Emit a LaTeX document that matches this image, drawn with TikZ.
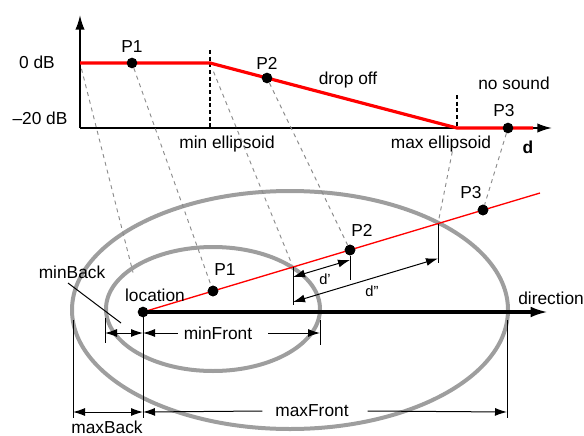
\documentclass[tikz,border=0pt]{standalone}
\usepackage{fontspec}
\setmainfont{Liberation Sans}
\usetikzlibrary{arrows.meta}
\begin{document}
\begin{tikzpicture}[x=0.75pt,y=-0.75pt,
  font=\fontsize{13}{15}\selectfont,
  lbl/.style={inner sep=0pt},
  axisline/.style={line width=1.3pt,-{Latex[length=11pt,width=7pt]}},
  redthick/.style={draw=red,line width=2.4pt},
  redthin/.style={draw=red,line width=1pt},
  proj/.style={draw=black!45,dash pattern=on 3pt off 3pt,line width=0.7pt},
  vdash/.style={draw=black,dash pattern=on 3pt off 2pt,line width=0.8pt},
  dot/.style={circle,fill=black,inner sep=0pt,minimum size=8pt},
  ell/.style={draw=black!38,line width=3pt},
  ext/.style={line width=0.75pt},
  dimboth/.style={line width=0.75pt,{Latex[length=9pt,width=6pt]}-{Latex[length=9pt,width=6pt]}},
  dimstart/.style={line width=0.75pt,{Latex[length=9pt,width=6pt]}-},
  dimend/.style={line width=0.75pt,-{Latex[length=9pt,width=6pt]}},
  dirline/.style={line width=2.3pt,-{Latex[length=13pt,width=8pt]}}]
\useasboundingbox (0,0) rectangle (584,435);

% ---------- graph ----------
\coordinate (O) at (80,128);
\coordinate (Ytip) at (80,15);
\coordinate (Xtip) at (552,128);
\draw[axisline] (O) -- (Ytip);
\draw[axisline] (O) -- (Xtip);
\coordinate (g0) at (80,63);
\coordinate (gmin) at (210,63);
\coordinate (gmax) at (457,128);
\coordinate (gend) at (533,128);
\coordinate (vminT) at (210,50);
\coordinate (vminB) at (210,128);
\coordinate (vmaxT) at (457,95);
\coordinate (vmaxB) at (457,128);
\draw[vdash] (vminT) -- (vminB);
\draw[vdash] (vmaxT) -- (vmaxB);
\draw[redthick] (g0) -- (gmin) -- (gmax) -- (gend);
\node[dot] (gP1) at (132,63) {};
\node[dot] (gP2) at (267,78) {};
\node[dot] (gP3) at (508,128) {};

\node[lbl] (l0db) at (37,62) {0 dB};
\node[lbl] (l20db) at (40,118) {–20 dB};
\node[lbl] (lgP1) at (132,47) {P1};
\node[lbl] (lgP2) at (267,63) {P2};
\node[lbl] (ldrop) at (348,80) {drop off};
\node[lbl] (lnos) at (514,83) {no sound};
\node[lbl] (lgP3) at (504,111) {P3};
\node[lbl] (lminE) at (227,144) {min ellipsoid};
\node[lbl] (lmaxE) at (441,144) {max ellipsoid};
\node[lbl] (ld) at (528,147) {\bfseries d};

% ---------- ellipses ----------
\draw[ell] (213,309) ellipse [x radius=80.25pt, y radius=46.5pt];
\draw[ell] (290,310) ellipse [x radius=163.5pt, y radius=89.25pt];

% ---------- bottom points ----------
\coordinate (loc) at (143,312);
\coordinate (redEnd) at (540,193);
\coordinate (bIn) at (293,267);
\coordinate (bOut) at (438,223.6);
\coordinate (dirTip) at (548,312);
\node[dot] (bP1) at (213,291) {};
\node[dot] (bP2) at (350,250) {};
\node[dot] (bP3) at (483,210) {};

% projection lines
\draw[proj,shorten <=4.5pt,shorten >=30.5pt] (g0) -- (loc);
\draw[proj] (gP1) -- (bP1);
\draw[proj,shorten <=7pt,shorten >=2pt] (gmin) -- (bIn);
\draw[proj] (gP2) -- (bP2);
\draw[proj,shorten <=18pt,shorten >=1pt] (gmax) -- (bOut);
\draw[proj] (gP3) -- (bP3);

\draw[redthin] (loc) -- (redEnd);
\draw[dirline] (loc) -- (dirTip);
\node[dot] (locdot) at (loc) {};
\node[dot] at (bP1) {};
\node[dot] at (bP2) {};
\node[dot] at (bP3) {};

% d' and d''
\coordinate (eInB) at (293,305);
\coordinate (eP2B) at (350,280);
\coordinate (eOutB) at (438,263);
\draw[ext] (bIn) -- (eInB);
\draw[ext] (bP2) -- (eP2B);
\draw[ext] (bOut) -- (eOutB);
\coordinate (dpA) at (293,277);
\coordinate (dpB) at (350,260);
\coordinate (dppA) at (293,302);
\coordinate (dppB) at (438,258.5);
\draw[dimboth] (dpA) -- (dpB);
\draw[dimboth] (dppA) -- (dppB);
\node[lbl,font=\fontsize{11}{13}\selectfont] (ldp) at (325,279) {d'};
\node[lbl,font=\fontsize{11}{13}\selectfont] (ldpp) at (372,291) {d"};

% labels bottom
\node[lbl] (lbP1) at (225,270) {P1};
\node[lbl] (lbP2) at (362,230) {P2};
\node[lbl] (lbP3) at (471,193) {P3};
\node[lbl] (lloc) at (155,295) {location};
\node[lbl,anchor=west] (ldir) at (518,298) {direction};
\node[lbl] (lminB) at (72,272) {minBack};

% minBack leader
\coordinate (mbA) at (68,283);
\coordinate (mbB) at (121,323);
\draw[ext] (mbA) -- (mbB);

% extension ticks
\coordinate (t1a) at (105,318); \coordinate (t1b) at (105,343);
\coordinate (t2b) at (143,418);
\coordinate (t3a) at (320,320); \coordinate (t3b) at (320,345);
\coordinate (t4a) at (73,320);  \coordinate (t4b) at (73,418);
\coordinate (t5a) at (507,320); \coordinate (t5b) at (507,418);
\draw[ext] (t1a) -- (t1b);
\draw[ext] (loc) -- (t2b);
\draw[ext] (t3a) -- (t3b);
\draw[ext] (t4a) -- (t4b);
\draw[ext] (t5a) -- (t5b);

% min dimensions
\coordinate (mbL) at (105,333);
\coordinate (mbR) at (143,333);
\coordinate (mfR) at (320,333);
\draw[dimboth] (mbL) -- (mbR);
\node[lbl] (lminF) at (218,333) {minFront};
\draw[dimstart] (mbR) -- ([xshift=-4.5pt]lminF.west);
\draw[dimend] ([xshift=12pt]lminF.east) -- (mfR);

% max dimensions
\coordinate (MbL) at (73,412);
\coordinate (MbR) at (143,412);
\coordinate (MfR) at (507,412);
\draw[dimboth] (MbL) -- (MbR);
\node[lbl] (lmaxF) at (312,411) {maxFront};
\draw[dimstart] (MbR) -- ([xshift=-9.5pt]lmaxF.west);
\draw[dimend] ([xshift=14pt]lmaxF.east) -- (MfR);
\node[lbl] (lmaxB) at (107,427) {maxBack};
\end{tikzpicture}
\end{document}
